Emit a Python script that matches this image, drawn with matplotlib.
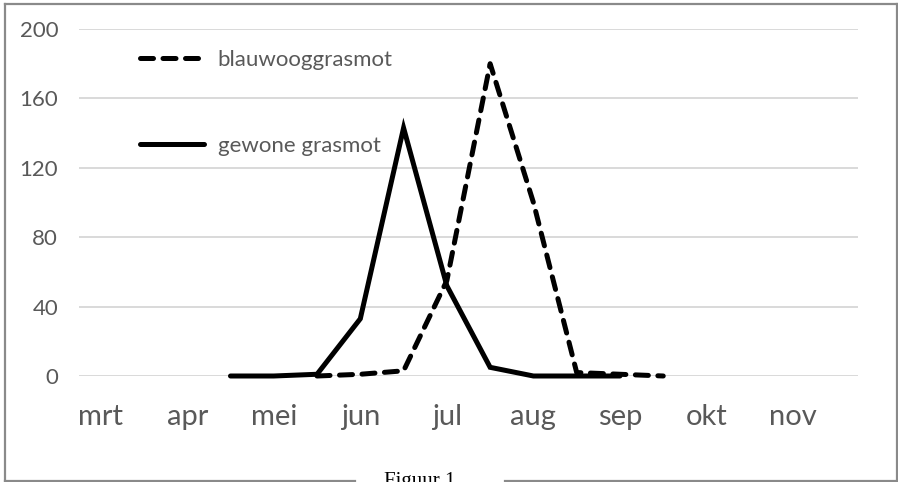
import numpy as np
import matplotlib.pyplot as plt
from matplotlib.lines import Line2D

# Half-monthly categories, only every other one labelled
categories = ['mrt', '', 'apr', '', 'mei', '', 'jun', '', 'jul', '',
              'aug', '', 'sep', '', 'okt', '', 'nov', '']
nan = np.nan
gewone = [nan, nan, nan, 0, 0, 1, 33, 143, 52, 5, 0, 0, 0,
          nan, nan, nan, nan, nan]
blauwoog = [nan, nan, nan, nan, nan, 0, 1, 3, 55, 180, 100, 2, 1, 0,
            nan, nan, nan, nan]
yticks = [0, 40, 80, 120, 160, 200]

plt.rcParams['font.family'] = ['Lato', 'DejaVu Sans']
grey_txt = '#595959'

fig = plt.figure(figsize=(8.98, 4.82), dpi=100)
ax = fig.add_axes([79 / 898, 1 - 376 / 482, 779 / 898, 347 / 482])

x = np.arange(len(categories))
l_gew, = ax.plot(x, gewone, color='black', lw=3.6, solid_capstyle='round',
                 solid_joinstyle='miter', clip_on=False, zorder=3)
l_bl, = ax.plot(x, blauwoog, color='black', lw=3.6, dashes=(2.6, 1.9),
                dash_capstyle='round', clip_on=False, zorder=3)

ax.set_xlim(-0.5, len(categories) - 0.5)
ax.set_ylim(0, 200)
ax.set_yticks(yticks)
ax.set_xticks(x[::2])
ax.set_xticklabels(categories[::2])
ax.grid(axis='y', color='#d9d9d9', lw=1.4)
ax.set_axisbelow(True)
for s in ax.spines.values():
    s.set_visible(False)
ax.tick_params(axis='both', length=0, labelcolor=grey_txt)
ax.tick_params(axis='y', pad=15, labelsize=16)
ax.tick_params(axis='x', pad=20, labelsize=21)

ax.legend([l_bl, l_gew], ['blauwooggrasmot', 'gewone grasmot'],
          loc='upper left', bbox_to_anchor=(61 / 779, 1 - 21 / 347),
          frameon=False, fontsize=16, labelcolor=grey_txt,
          handlelength=2.9, handletextpad=0.6, labelspacing=2.98,
          borderpad=0, borderaxespad=0)

# outer frame, with a gap in the bottom edge for the caption
fc = '#8a8a8a'
W, H = 898, 482
def fline(xs, ys):
    fig.add_artist(Line2D([v / W for v in xs], [1 - v / H for v in ys],
                          color=fc, lw=1.6, transform=fig.transFigure))
fline([5, 5], [4, 481])
fline([5, 897], [4, 4])
fline([897, 897], [4, 481])
fline([5, 355], [481, 481])
fline([505, 897], [481, 481])

fig.text(420 / W, 1 - 472 / H, 'Figuur 1', ha='center', va='top',
         fontsize=15, family='Liberation Serif', color='black')

fig.savefig('out.png', dpi=100)
